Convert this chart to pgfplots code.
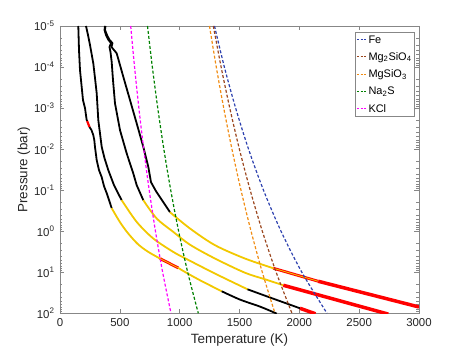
\documentclass[border=0pt]{standalone}
\usepackage{fontspec}
\setmainfont{Liberation Sans}
\usepackage{pgfplots}
\pgfplotsset{compat=1.18}

\definecolor{feblue}{RGB}{45,65,175}
\definecolor{fobrown}{RGB}{155,70,30}
\definecolor{enorange}{RGB}{240,140,20}
\definecolor{nagreen}{RGB}{0,128,0}
\definecolor{kmag}{RGB}{255,0,255}
\definecolor{pyellow}{RGB}{242,200,0}
\definecolor{axgray}{RGB}{135,135,135}

\pgfplotsset{
  blk/.style={black, line width=1.8bp, line join=round, forget plot},
  yel/.style={pyellow, line width=1.8bp, line join=round, forget plot},
  rd/.style={red, line width=3.5bp, forget plot},
  rdthin/.style={red, line width=2.8bp, forget plot},
  stripe/.style={pyellow, line width=0.8bp, forget plot},
  cond/.style={line width=1.2bp, dash pattern=on 3bp off 2bp},
}

\begin{document}
\begin{tikzpicture}
\useasboundingbox (-60bp,-38.7bp) rectangle (403bp,313.3bp);
\begin{axis}[
  width=359bp, height=287.3bp, scale only axis,
  xmin=0, xmax=3000, ymin=1e-5, ymax=1e2,
  ymode=log, y dir=reverse,
  xtick={0,500,1000,1500,2000,2500,3000},
  ytickten={-5,-4,-3,-2,-1,0,1,2},
  yticklabels={10\textsuperscript{-5},10\textsuperscript{-4},10\textsuperscript{-3},10\textsuperscript{-2},10\textsuperscript{-1},10\textsuperscript{0},10\textsuperscript{1},10\textsuperscript{2}},
  /pgf/number format/assume math mode=true,
  /pgf/number format/1000 sep={},
  tick label style={font=\fontsize{11.5}{13}\selectfont, text=black!85},
  xticklabel style={yshift=-1.5bp},
  yticklabel style={xshift=-2bp},
  label style={font=\fontsize{13.5}{15}\selectfont, text=black!85},
  xlabel={Temperature (K)},
  ylabel={Pressure (bar)},
  xlabel style={at={(axis description cs:0.5,-0.093)}, anchor=center},
  ylabel style={at={(axis description cs:-0.1003,0.5)}, anchor=center},
  axis line style={axgray, line width=0.6bp},
  every tick/.style={axgray, line width=0.6bp},
  major tick length=4.5bp, minor tick length=2.5bp,
  legend style={at={(0.987,0.980)}, anchor=north east, draw=axgray, line width=0.6bp,
    font=\fontsize{11}{12}\selectfont, inner xsep=1bp, inner ysep=1.5bp, row sep=5.3bp,
    nodes={inner xsep=1.5bp, inner ysep=0.5bp, text height=9bp, text depth=2bp},
    cells={anchor=west}},
  legend image code/.code={\draw[#1, dash pattern=on 2.2bp off 1.5bp] (0bp,0bp) -- (9.5bp,0bp);},
]

% profile 1
\addplot[blk] table[y expr=10^(\thisrowno{1})] {
152.9 -5
158.8 -4.415
167.1 -3.927
181.3 -3.512
192.2 -3.195
200.6 -3.098
208.9 -3.0
223.1 -2.707
227.3 -2.683
};
\addplot[red, line width=2.2bp, forget plot] table[y expr=10^(\thisrowno{1})] {
227.3 -2.683
246.5 -2.537
};
\addplot[blk] table[y expr=10^(\thisrowno{1})] {
246.5 -2.537
263.2 -2.463
278.3 -2.341
286.6 -2.220
292.5 -2.049
306.7 -1.732
325.9 -1.488
348.5 -1.317
367.7 -1.098
390.3 -0.927
432.0 -0.561
};
\addplot[yel, smooth] table[y expr=10^(\thisrowno{1})] {
432.0 -0.561
501.4 -0.220
568.2 0.049
651.8 0.317
735.4 0.500
835.6 0.666
};
\addplot[rdthin] table[y expr=10^(\thisrowno{1})] {
835.6 0.666
988.6 0.895
};
\addplot[stripe] table[y expr=10^(\thisrowno{1})] {
835.6 0.666
988.6 0.895
};
\addplot[yel, smooth] table[y expr=10^(\thisrowno{1})] {
988.6 0.895
1044.6 0.993
1170.0 1.195
1351.2 1.463
};
\addplot[blk, smooth] table[y expr=10^(\thisrowno{1})] {
1351.2 1.463
1504.2 1.666
1671.3 1.837
1811.0 2.007
};

% profile 2
\addplot[blk] table[y expr=10^(\thisrowno{1})] {
217.3 -5
234.0 -4.780
250.7 -4.537
278.3 -4.090
292.5 -3.732
306.7 -3.359
320.1 -2.707
348.5 -2.056
371.9 -1.780
403.6 -1.488
451.2 -1.122
484.7 -0.927
515.6 -0.756
};
\addplot[yel, smooth] table[y expr=10^(\thisrowno{1})] {
515.6 -0.756
640.9 -0.227
779.7 0.178
946.8 0.505
1061.3 0.683
1295.3 1.032
1566.8 1.415
};
\addplot[blk, smooth] table[y expr=10^(\thisrowno{1})] {
1566.8 1.415
1796.6 1.659
2005.6 1.878
};
\addplot[rd] table[y expr=10^(\thisrowno{1})] {
2005.6 1.878
2135.0 2.012
};

% profile 3
\addplot[blk] table[y expr=10^(\thisrowno{1})] {
376.0 -5
371.9 -4.902
384.4 -4.780
405.3 -4.659
426.2 -4.585
413.6 -4.488
422.0 -4.366
432.0 -4.122
442.9 -3.683
459.6 -3.115
501.4 -2.463
557.4 -1.895
612.5 -1.407
640.9 -1.122
696.1 -0.756
};
\addplot[yel, smooth] table[y expr=10^(\thisrowno{1})] {
696.1 -0.756
808.1 -0.310
946.8 0.017
1086.3 0.329
1295.3 0.666
1546.0 1.012
1713.1 1.171
1866.0 1.317
};
\addplot[rd] table[y expr=10^(\thisrowno{1})] {
1866.0 1.317
2743.4 2.020
};

% profile 4
\addplot[blk] table[y expr=10^(\thisrowno{1})] {
380.2 -5
376.0 -4.902
392.8 -4.780
413.6 -4.659
438.7 -4.585
430.3 -4.488
451.2 -4.415
473.8 -4.334
529.0 -3.763
585.0 -3.195
640.9 -2.627
696.1 -2.056
737.9 -1.568
760.4 -1.195
802.2 -0.976
852.4 -0.756
919.2 -0.463
};
\addplot[yel, smooth] table[y expr=10^(\thisrowno{1})] {
919.2 -0.463
1086.3 -0.066
1295.3 0.341
1546.0 0.666
1782.4 0.902
};
\addplot[rdthin] table[y expr=10^(\thisrowno{1})] {
1782.4 0.902
2158.5 1.220
};
\addplot[stripe] table[y expr=10^(\thisrowno{1})] {
1782.4 0.902
2158.5 1.220
};
\addplot[rd] table[y expr=10^(\thisrowno{1})] {
2158.5 1.220
3000.0 1.846
};

% condensation curves
\addplot[cond, feblue, smooth] table[y expr=10^(\thisrowno{1})] {
1291.0 -5
1373.6 -4
1467.8 -3
1575.6 -2
1700.4 -1
1847.0 0
2021.0 1
2231.2 2
};
\addplot[cond, fobrown, smooth] table[y expr=10^(\thisrowno{1})] {
1281.3 -5
1346.5 -4
1418.7 -3
1499.1 -2
1589.3 -1
1690.9 0
1806.4 1
1938.7 2
};
\addplot[cond, enorange, smooth] table[y expr=10^(\thisrowno{1})] {
1249.2 -5
1306.0 -4
1368.2 -3
1436.8 -2
1512.4 -1
1596.7 0
1690.6 1
1796.6 2
};
\addplot[cond, nagreen, smooth] table[y expr=10^(\thisrowno{1})] {
731.2 -5
771.7 -4
816.9 -3
867.8 -2
925.4 -1
991.3 0
1067.2 1
1155.7 2
};
\addplot[cond, kmag, smooth] table[y expr=10^(\thisrowno{1})] {
590.8 -5
623.1 -4
659.2 -3
699.7 -2
745.5 -1
797.7 0
857.8 1
927.6 2
};
\legend{Fe, Mg\textsubscript{2}SiO\textsubscript{4}, MgSiO\textsubscript{3}, Na\textsubscript{2}S, KCl}

\end{axis}
\end{tikzpicture}
\end{document}
